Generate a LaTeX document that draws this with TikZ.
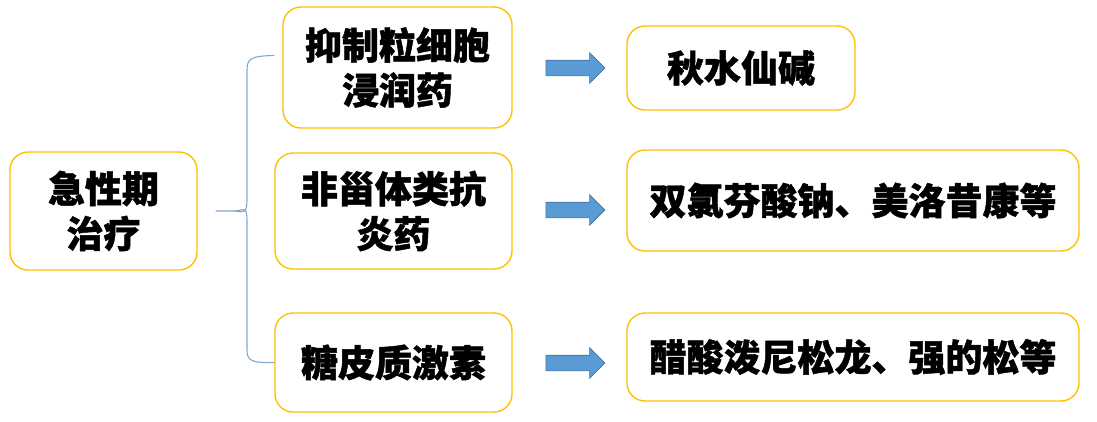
\documentclass[tikz,border=0pt]{standalone}
\usepackage{fontspec}
\usepackage{xcolor}
\usetikzlibrary{shapes.arrows}
\newfontfamily\cjk{Noto Sans CJK SC}[BoldFeatures={FakeBold=1.2}]
\definecolor{boxgold}{HTML}{FFC000}
\definecolor{arrowblue}{HTML}{5B9BD5}
\definecolor{arrowedge}{HTML}{41719C}
\definecolor{bracecol}{HTML}{7FA6D3}
\tikzset{
  box/.style={draw=boxgold, line width=1.4pt, rounded corners=18pt,
    inner sep=0pt, align=center,
    font=\cjk\bfseries\fontsize{37pt}{45pt}\selectfont},
  bluearrow/.style={single arrow, fill=arrowblue, draw=arrowedge,
    line width=0.6pt, inner xsep=0pt, inner ysep=7.5pt,
    single arrow head extend=7.5pt, minimum height=59pt},
  bracel/.style={draw=bracecol, line width=1.1pt}
}

\begin{document}
\begin{tikzpicture}[x=1pt,y=-1pt]
  \useasboundingbox (0,0) rectangle (1097,421);
  % Root of the tree
  \node[box, minimum width=187pt, minimum height=118pt] (root) at (103.5,211) {急性期\\治疗};

  % Middle column: the three kinds of drug
  \node[box, minimum width=229pt, minimum height=121pt] (inhib) at (397.5,67.5) {抑制粒细胞\\浸润药};
  \node[box, minimum width=237pt, minimum height=116pt] (nsaid) at (393.5,211) {非甾体类抗\\炎药};
  \node[box, minimum width=237pt, minimum height=99pt] (gluco) at (393.5,362.5) {糖皮质激素};

  % Right column: examples of each kind
  \node[box, minimum width=228pt, minimum height=84pt] (colch) at (741,68) {秋水仙碱};
  \node[box, minimum width=452pt, minimum height=101pt] (diclo) at (853,200.5) {双氯芬酸钠、美洛昔康等};
  \node[box, minimum width=452pt, minimum height=88pt] (predn) at (853,357) {醋酸泼尼松龙、强的松等};

  % Block arrows between the columns
  \node[bluearrow] (arr1) at (571.5,68) {};
  \node[bluearrow] (arr2) at (571.5,210) {};
  \node[bluearrow] (arr3) at (571.5,363) {};

  % Curly brace from root to the three kinds
  \coordinate (tip) at ([xshift=18pt]root.east);
  \coordinate (btop) at ([xshift=-8pt,yshift=12pt]inhib.west);
  \coordinate (bbot) at (gluco.west);
  \draw[bracel] (tip) -- ++(18,0) .. controls ++(10,0) and (247,216) .. (247,198)
    -- (247,70) .. controls (247,58) and (252,56) .. (btop);
  \draw[bracel] ([xshift=18pt]tip) .. controls ++(10,0) and (247,204) .. (247,222)
    -- (247,350) .. controls (247,361) and (252,363) .. (bbot);
\end{tikzpicture}
\end{document}
